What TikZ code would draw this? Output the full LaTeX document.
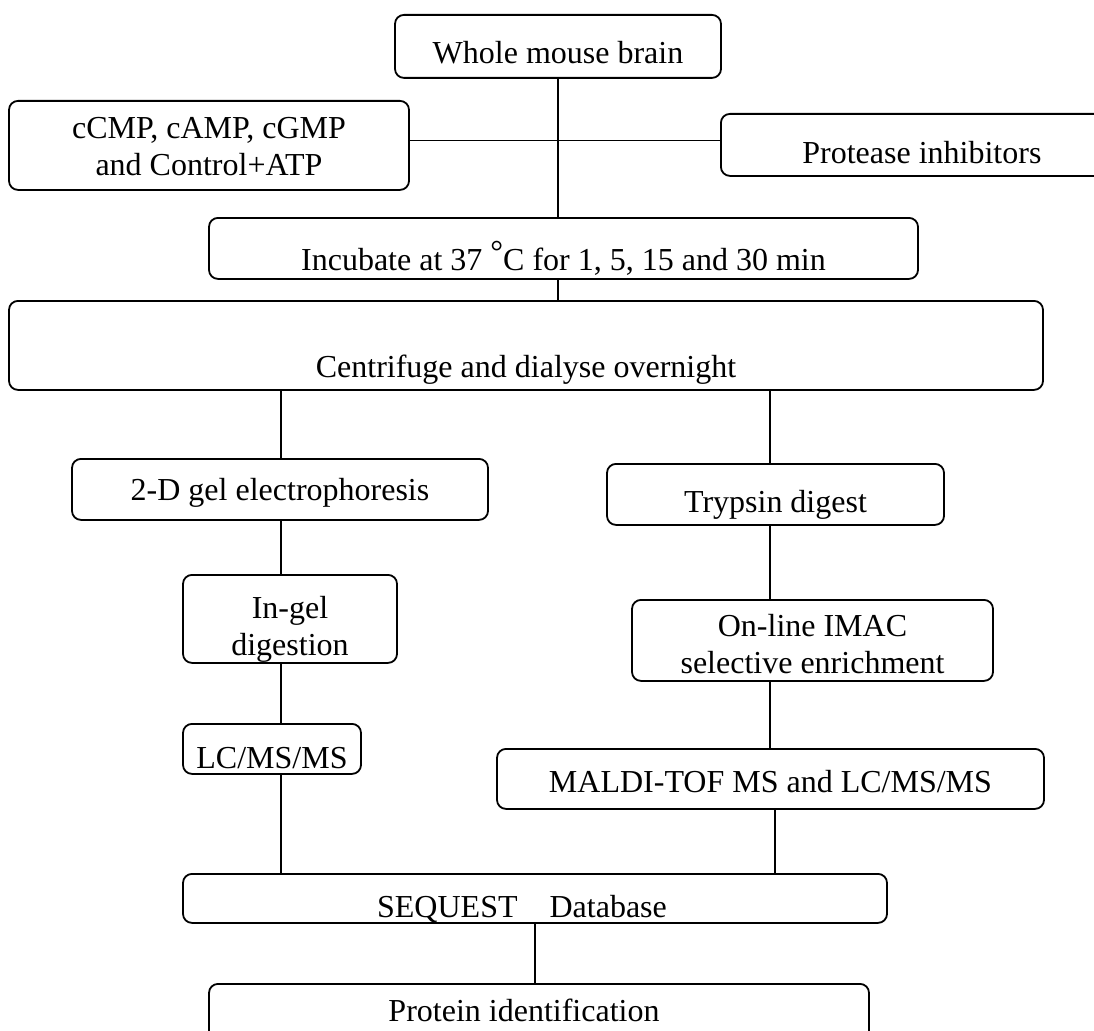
\documentclass[tikz,border=0pt]{standalone}
\usepackage{fontspec}
\setmainfont{Liberation Serif}
\usepackage{tikz}
\usetikzlibrary{positioning, calc}

\begin{document}
\begin{tikzpicture}[x=1pt, y=-1pt]
\tikzset{
  stage/.style={rectangle,rounded corners=9pt,draw=black,line width=1.8pt,inner sep=0pt,anchor=north,font=\fontsize{32}{37}\selectfont},
  twoline/.style={stage,align=center},
  ln/.style={line width=1.4pt,draw=black}
}
\fill[white] (0,0) rectangle (1094,1030);
\useasboundingbox (0,0) rectangle (1094,1030);
\clip (0,0) rectangle (1094,1030);
% ---- columns the connectors run down
\coordinate (mcol) at (558,0);
\coordinate (lcol) at (281,0);
\coordinate (rcol) at (770,0);
\coordinate (dcol) at (775,0);
% ---- sample preparation
\node[stage,minimum width=326pt,text height=49pt,text depth=14pt] (brain) at (558,14) {Whole mouse brain};
\node[twoline,minimum width=400pt,text height=75pt,text depth=14pt] (agents) at (209,100) {cCMP, cAMP, cGMP\\ and Control+ATP};
\node[stage,anchor=north west,minimum width=402pt,text height=50pt,text depth=12pt] (inhib) at (720,113) {Protease inhibitors};
\node[stage,minimum width=709pt,text height=53pt,text depth=8pt] (incub) at (563.5,217) {Incubate at 37 \raisebox{0.25em}{\textdegree}C for 1, 5, 15 and 30 min};
\node[stage,minimum width=1034pt,text height=77pt,text depth=12pt] (spin) at (526,300) {Centrifuge and dialyse overnight};
% ---- gel branch
\node[stage,minimum width=416pt,text height=42pt,text depth=19pt] (gel) at (280,458) {2-D gel electrophoresis};
\node[twoline,minimum width=214pt,text height=81pt,text depth=7pt] (ingel) at (290,574) {In-gel\\ digestion};
\node[stage,minimum width=178pt,text height=45pt,text depth=5pt] (lcms) at (272,723) {LC/MS/MS};
% ---- digest branch
\node[stage,minimum width=337pt,text height=49pt,text depth=12pt] (tryp) at (775.5,463) {Trypsin digest};
\node[twoline,minimum width=361pt,text height=74pt,text depth=7pt] (imac) at (812.5,599) {On-line IMAC\\ selective enrichment};
\node[stage,minimum width=547pt,text height=44pt,text depth=16pt] (maldi) at (770.5,748) {MALDI-TOF MS and LC/MS/MS};
% ---- search
\node[stage,minimum width=704pt,text height=44pt,text depth=5pt] (seq) at (535,873) {SEQUEST\quad Database\hspace*{26pt}};
\node[stage,minimum width=660pt,text height=38pt,text depth=24pt] (protid) at (539,983) {Protein identification\hspace*{30pt}};
% ---- connectors
\draw[ln] (brain.south) -- (brain.south |- incub.north);
\draw[ln] ([yshift=5pt]agents.east) -- ([yshift=5pt]agents.east -| inhib.west);
\draw[ln] (mcol |- incub.south) -- (mcol |- spin.north);
\draw[ln] (lcol |- spin.south) -- (lcol |- gel.north);
\draw[ln] (lcol |- gel.south) -- (lcol |- ingel.north);
\draw[ln] (lcol |- ingel.south) -- (lcol |- lcms.north);
\draw[ln] (lcol |- lcms.south) -- (lcol |- seq.north);
\draw[ln] (rcol |- spin.south) -- (rcol |- tryp.north);
\draw[ln] (rcol |- tryp.south) -- (rcol |- imac.north);
\draw[ln] (rcol |- imac.south) -- (rcol |- maldi.north);
\draw[ln] (dcol |- maldi.south) -- (dcol |- seq.north);
\draw[ln] (seq.south) -- (seq.south |- protid.north);
\end{tikzpicture}
\end{document}
